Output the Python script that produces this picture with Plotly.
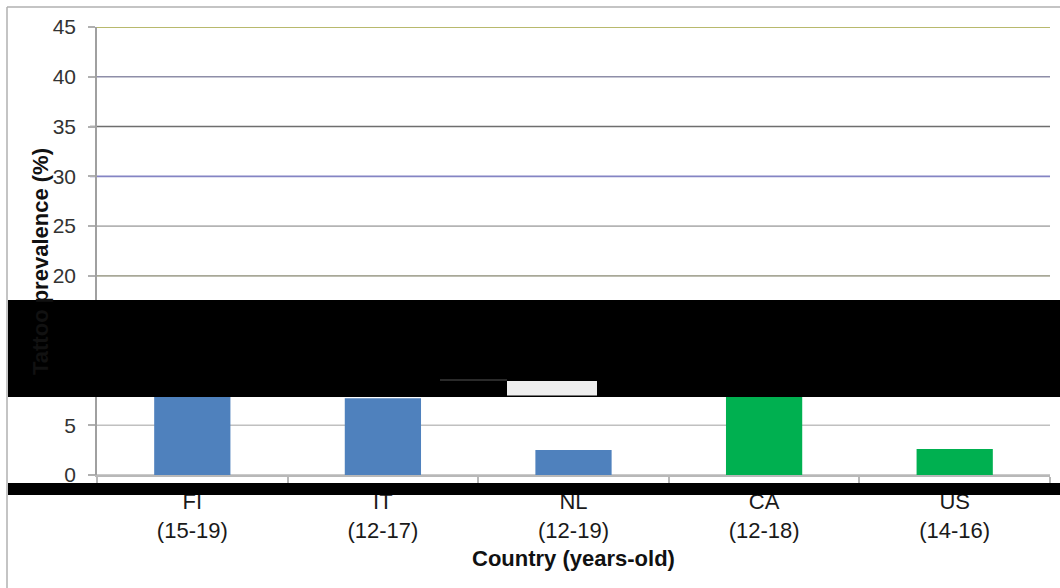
import plotly.graph_objects as go

# Tattoo prevalence among adolescents, by country and age band
countries = ["FI", "IT", "NL", "CA", "US"]
age_bands = ["(15-19)", "(12-17)", "(12-19)", "(12-18)", "(14-16)"]
prevalence = [9.0, 7.7, 2.5, 8.0, 2.6]
bar_colors = ["#4f81bd", "#4f81bd", "#4f81bd", "#00b050", "#00b050"]

y_ticks = [0, 5, 10, 15, 20, 25, 30, 35, 40, 45]
grid_colors = ["#b8b8b8", "#c0c0c0", "#bcbcbc", "#bcbcbc", "#a8a898",
               "#b4b4b4", "#8484c4", "#6e6e6e", "#8e8ea8", "#a0a23c"]

W, H = 1060, 588
L, R, T, B = 97, 10, 27, 113
PW, PH = W - L - R, H - T - B


def px_x(px):
    return (px - L) / PW


def px_y(py):
    return (H - B - py) / PH


tick_text = [f"{c}<br>{a}" for c, a in zip(countries, age_bands)]

fig = go.Figure(
    go.Bar(
        x=tick_text,
        y=prevalence,
        marker=dict(color=bar_colors, line=dict(width=0)),
        width=0.4,
        showlegend=False,
    )
)

shapes = []
# horizontal gridlines, each with its own tint
for v, col in zip(y_ticks, grid_colors):
    shapes.append(dict(type="line", xref="paper", yref="y",
                       x0=px_x(90), x1=px_x(1050), y0=v, y1=v,
                       line=dict(color=col, width=1.6), layer="below"))

# outer frame (left and top edges)
shapes.append(dict(type="line", xref="paper", yref="paper",
                   x0=px_x(7), x1=px_x(7), y0=px_y(7), y1=px_y(H + 5),
                   line=dict(color="#b0b0b0", width=1.5)))
shapes.append(dict(type="line", xref="paper", yref="paper",
                   x0=px_x(7), x1=px_x(W + 5), y0=px_y(7), y1=px_y(7),
                   line=dict(color="#b0b0b0", width=1.5)))

# opaque black bands across the chart
shapes.append(dict(type="rect", xref="paper", yref="paper",
                   x0=px_x(8), x1=px_x(W + 2), y0=px_y(397), y1=px_y(300),
                   fillcolor="black", line=dict(width=0), layer="above"))
shapes.append(dict(type="rect", xref="paper", yref="paper",
                   x0=px_x(8), x1=px_x(W + 2), y0=px_y(495), y1=px_y(483),
                   fillcolor="black", line=dict(width=0), layer="above"))
# light patch inside the upper band
shapes.append(dict(type="rect", xref="paper", yref="paper",
                   x0=px_x(507), x1=px_x(597), y0=px_y(395.5), y1=px_y(381),
                   fillcolor="#eeeeee", line=dict(width=0), layer="above"))
shapes.append(dict(type="line", xref="paper", yref="paper",
                   x0=px_x(440), x1=px_x(507), y0=px_y(380), y1=px_y(380),
                   line=dict(color="#555555", width=1), layer="above"))

annotations = [
    dict(text="<b>Tattoo prevalence (%)</b>", textangle=-90,
         xref="paper", yref="paper", x=px_x(40), y=px_y(262),
         xanchor="center", yanchor="middle", showarrow=False,
         font=dict(size=22, color="#111111")),
    dict(text="<b>Country (years-old)</b>",
         xref="paper", yref="paper", x=0.5, y=px_y(558),
         xanchor="center", yanchor="middle", showarrow=False,
         font=dict(size=22, color="#111111")),
]

fig.update_layout(
    width=W, height=H,
    margin=dict(l=L, r=R, t=T, b=B, pad=0),
    paper_bgcolor="white", plot_bgcolor="white",
    font=dict(family="Liberation Sans, Arial, sans-serif", color="#222222"),
    bargap=0.6,
    shapes=shapes,
    annotations=annotations,
    xaxis=dict(
        showgrid=False,
        showline=True, linecolor="#b8b8b8", linewidth=1.5,
        ticks="outside", tickson="boundaries", ticklen=12,
        tickcolor="#b8b8b8", tickwidth=1.5,
        tickfont=dict(size=22, color="#1a1a1a"),
        ticklabelstandoff=6,
        fixedrange=True,
    ),
    yaxis=dict(
        range=[0, 45],
        tickvals=y_ticks,
        showgrid=False, zeroline=False,
        showline=True, linecolor="#a0a0a0", linewidth=1.5,
        ticks="outside", ticklen=7, tickcolor="#b0b0b0", tickwidth=1.5,
        tickfont=dict(size=21, color="#333333"),
        ticklabelstandoff=8,
        fixedrange=True,
    ),
)

fig.write_html("out.html")
